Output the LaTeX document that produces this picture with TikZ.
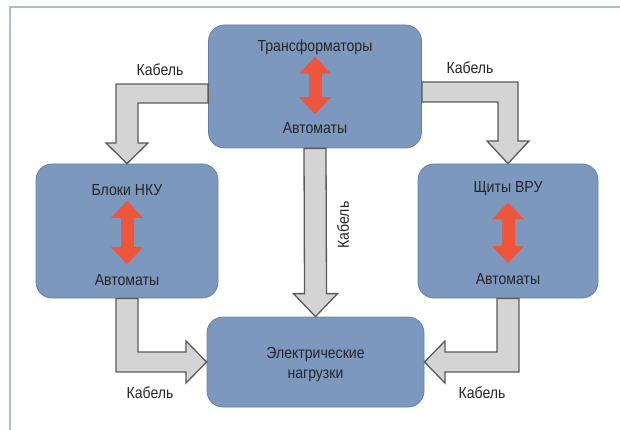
\documentclass[tikz,border=0pt]{standalone}
\usepackage{fontspec}
\setmainfont{Liberation Sans}[FakeStretch=0.88]
\usepackage{xcolor}
\usetikzlibrary{positioning,arrows.meta,calc}
\definecolor{boxblue}{HTML}{7C98BE}
\definecolor{boxedge}{HTML}{6381A8}
\definecolor{cablegray}{HTML}{D4D4D4}
\definecolor{cableedge}{HTML}{5A5A5A}
\definecolor{swapred}{HTML}{EF553B}
\definecolor{framecol}{HTML}{A9BFCC}
\definecolor{txtcol}{HTML}{262626}

\begin{document}
\begin{tikzpicture}[x=1pt,y=-1pt,
  unit/.style={draw=boxedge, line width=0.8pt, fill=boxblue, rounded corners=16pt, inner sep=0pt},
  lbl/.style={text=txtcol, font=\fontsize{16}{20}\selectfont, inner sep=1pt},
  cable/.style={draw=cableedge, fill=cablegray, line width=1.3pt, line join=miter},
  swap/.style={swapred, line width=13pt, {Triangle[length=17pt,width=31pt]}-{Triangle[length=17pt,width=31pt]}}]
\useasboundingbox (0,0) rectangle (620,430);

% Frame
\draw[framecol, line width=1.5pt] (10,430) -- (10,7) -- (620,7);

% Units
\node[unit, minimum width=213pt, minimum height=123pt] (trans) at (315,86.5) {};
\node[unit, minimum width=182pt, minimum height=134pt] (nku) at (127,231) {};
\node[unit, minimum width=180pt, minimum height=134pt] (vru) at (508,231) {};
\node[unit, minimum width=217pt, minimum height=90pt] (load) at (315.5,362) {};

% Cables
\draw[cable] (trans.west |- 0,84) -- (116,84) -- (116,143) -- (106,143) -- (nku.north)
  -- (148,143) -- (138,143) -- (138,103) -- (trans.west |- 0,103) -- cycle;
\draw[cable] (trans.east |- 0,82) -- (518,82) -- (518,141) -- (529,141) -- (vru.north)
  -- (487,141) -- (498,141) -- (498,102) -- (trans.east |- 0,102) -- cycle;
\draw[cable] ($(trans.south)+(-11,0)$) -- ($(load.north)+(-11,-23)$) -- ($(load.north)+(-22,-23)$)
  -- (load.north) -- ($(load.north)+(22,-23)$) -- ($(load.north)+(11,-23)$)
  -- ($(trans.south)+(11,0)$) -- cycle;
\draw[cable] ($(nku.south)+(-11,0)$) -- (116,372) -- (186,372) -- (186,383) -- (load.west)
  -- (186,341) -- (186,352) -- (138,352) -- ($(nku.south)+(11,0)$) -- cycle;
\draw[cable] ($(vru.south)+(11,0)$) -- (519,372) -- (445,372) -- (445,383) -- (load.east)
  -- (445,341) -- (445,352) -- (497,352) -- ($(vru.south)+(-11,0)$) -- cycle;

% Texts in units
\node[lbl] (transtop) at (315,47) {Трансформаторы};
\node[lbl] (transbot) at (315,128) {Автоматы};
\node[lbl] (nkutop) at (127,190) {Блоки НКУ};
\node[lbl] (nkubot) at (127,280) {Автоматы};
\node[lbl] (vrutop) at (508,189) {Щиты ВРУ};
\node[lbl] (vrubot) at (508,279) {Автоматы};
\node[lbl, align=center] (loadtxt) at (315.5,365) {Электрические\\нагрузки};

% Red arrows
\draw[swap, shorten <=1pt, shorten >=7pt] (transtop.south) -- (transbot.north);
\draw[swap, shorten <=4pt, shorten >=9pt] (nkutop.south) -- (nkubot.north);
\draw[swap, shorten <=5pt, shorten >=9pt] (vrutop.south) -- (vrubot.north);

% Cable labels
\node[lbl] (cabnku) at (160,70) {Кабель};
\node[lbl] (cabvru) at (470,68) {Кабель};
\node[lbl, rotate=90] (cabload) at (343,225) {Кабель};
\node[lbl] (cabnkuload) at (150,393) {Кабель};
\node[lbl] (cabvruload) at (482,393) {Кабель};
\end{tikzpicture}
\end{document}
